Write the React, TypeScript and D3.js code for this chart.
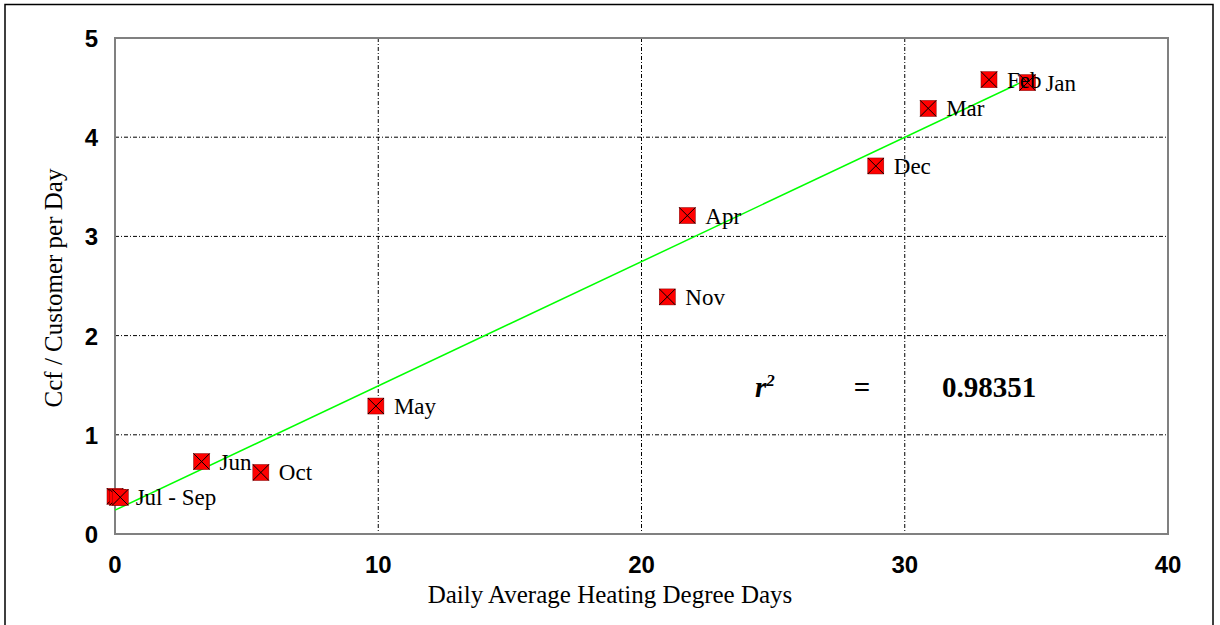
import React from "react";
import * as d3 from "d3";

const hdd = [0.0, 0.1, 0.2, 3.29, 5.54, 9.91, 20.98, 21.74, 28.9, 30.89, 33.2, 34.66];
const ccf = [0.38, 0.37, 0.37, 0.73, 0.62, 1.29, 2.39, 3.21, 3.71, 4.29, 4.58, 4.55];
const labels = ["", "Jul - Sep", "", "Jun", "Oct", "May", "Nov", "Apr", "Dec", "Mar", "Feb", "Jan"];
const xTicks = [0, 10, 20, 30, 40];
const yTicks = [0, 1, 2, 3, 4, 5];
const trendIntercept = 0.24;
const trendSlope = 0.1253;
const trendRange = [0, 34.66];
const rSquared = "0.98351";

export default function App() {
  const W = 1220, H = 625;
  const left = 115, right = 1168, top = 38, bottom = 534;
  const x = d3.scaleLinear().domain([0, 40]).range([left, right]);
  const y = d3.scaleLinear().domain([0, 5]).range([bottom, top]);
  const line = d3.line<number>().x((d) => x(d)).y((d) => y(trendIntercept + trendSlope * d));
  const ms = 16;
  return (
    <svg width={W} height={H} style={{ position: "absolute", left: 0, top: 0, background: "#fff" }}>
      <rect x={5} y={4.5} width={1208} height={640} fill="#fff" stroke="#000" strokeWidth={1.5} />
      {xTicks.filter((t) => t > 0 && t < 40).map((t) => (
        <line key={"gx" + t} x1={x(t)} x2={x(t)} y1={top} y2={bottom} stroke="#000" strokeWidth={1} strokeDasharray="4,2,1,2" />
      ))}
      {yTicks.filter((t) => t > 0 && t < 5).map((t) => (
        <line key={"gy" + t} x1={left} x2={right} y1={y(t)} y2={y(t)} stroke="#000" strokeWidth={1} strokeDasharray="4,2,1,2" />
      ))}
      <rect x={left} y={top} width={right - left} height={bottom - top} fill="none" stroke="#808080" strokeWidth={2} />
      <path d={line(trendRange) || ""} stroke="#00ff00" strokeWidth={1.5} fill="none" />
      {hdd.map((h, i) => {
        const cx = x(h), cy = y(ccf[i]);
        return (
          <g key={"m" + i}>
            <rect x={cx - ms / 2} y={cy - ms / 2} width={ms} height={ms} fill="#ff0000" stroke="#800000" strokeWidth={0.5} />
            <line x1={cx - ms / 2} y1={cy - ms / 2} x2={cx + ms / 2} y2={cy + ms / 2} stroke="#000" strokeWidth={1} />
            <line x1={cx + ms / 2} y1={cy - ms / 2} x2={cx - ms / 2} y2={cy + ms / 2} stroke="#000" strokeWidth={1} />
          </g>
        );
      })}
      {hdd.map((h, i) =>
        labels[i] ? (
          <text key={"l" + i} x={x(h) + 18} y={y(ccf[i]) + 8} fontFamily="Liberation Serif" fontSize={23} fill="#000">
            {labels[i]}
          </text>
        ) : null
      )}
      {xTicks.map((t) => (
        <text key={"xt" + t} x={x(t)} y={573} textAnchor="middle" fontFamily="Liberation Sans" fontWeight="bold" fontSize={24} fill="#000">
          {t}
        </text>
      ))}
      {yTicks.map((t) => (
        <text key={"yt" + t} x={98} y={y(t) + 9} textAnchor="end" fontFamily="Liberation Sans" fontWeight="bold" fontSize={24} fill="#000">
          {t}
        </text>
      ))}
      <text x={610} y={603} textAnchor="middle" fontFamily="Liberation Serif" fontSize={25} fill="#000">
        Daily Average Heating Degree Days
      </text>
      <text transform={`translate(62,288) rotate(-90)`} textAnchor="middle" fontFamily="Liberation Serif" fontSize={25} fill="#000">
        Ccf / Customer per Day
      </text>
      <text x={755} y={397} fontFamily="Liberation Serif" fontStyle="italic" fontWeight="bold" fontSize={29} fill="#000">
        r<tspan fontSize={17} dy={-11}>2</tspan>
      </text>
      <text x={862} y={397} textAnchor="middle" fontFamily="Liberation Serif" fontWeight="bold" fontSize={29} fill="#000">=</text>
      <text x={942} y={397} fontFamily="Liberation Serif" fontWeight="bold" fontSize={29} fill="#000">{rSquared}</text>
    </svg>
  );
}
